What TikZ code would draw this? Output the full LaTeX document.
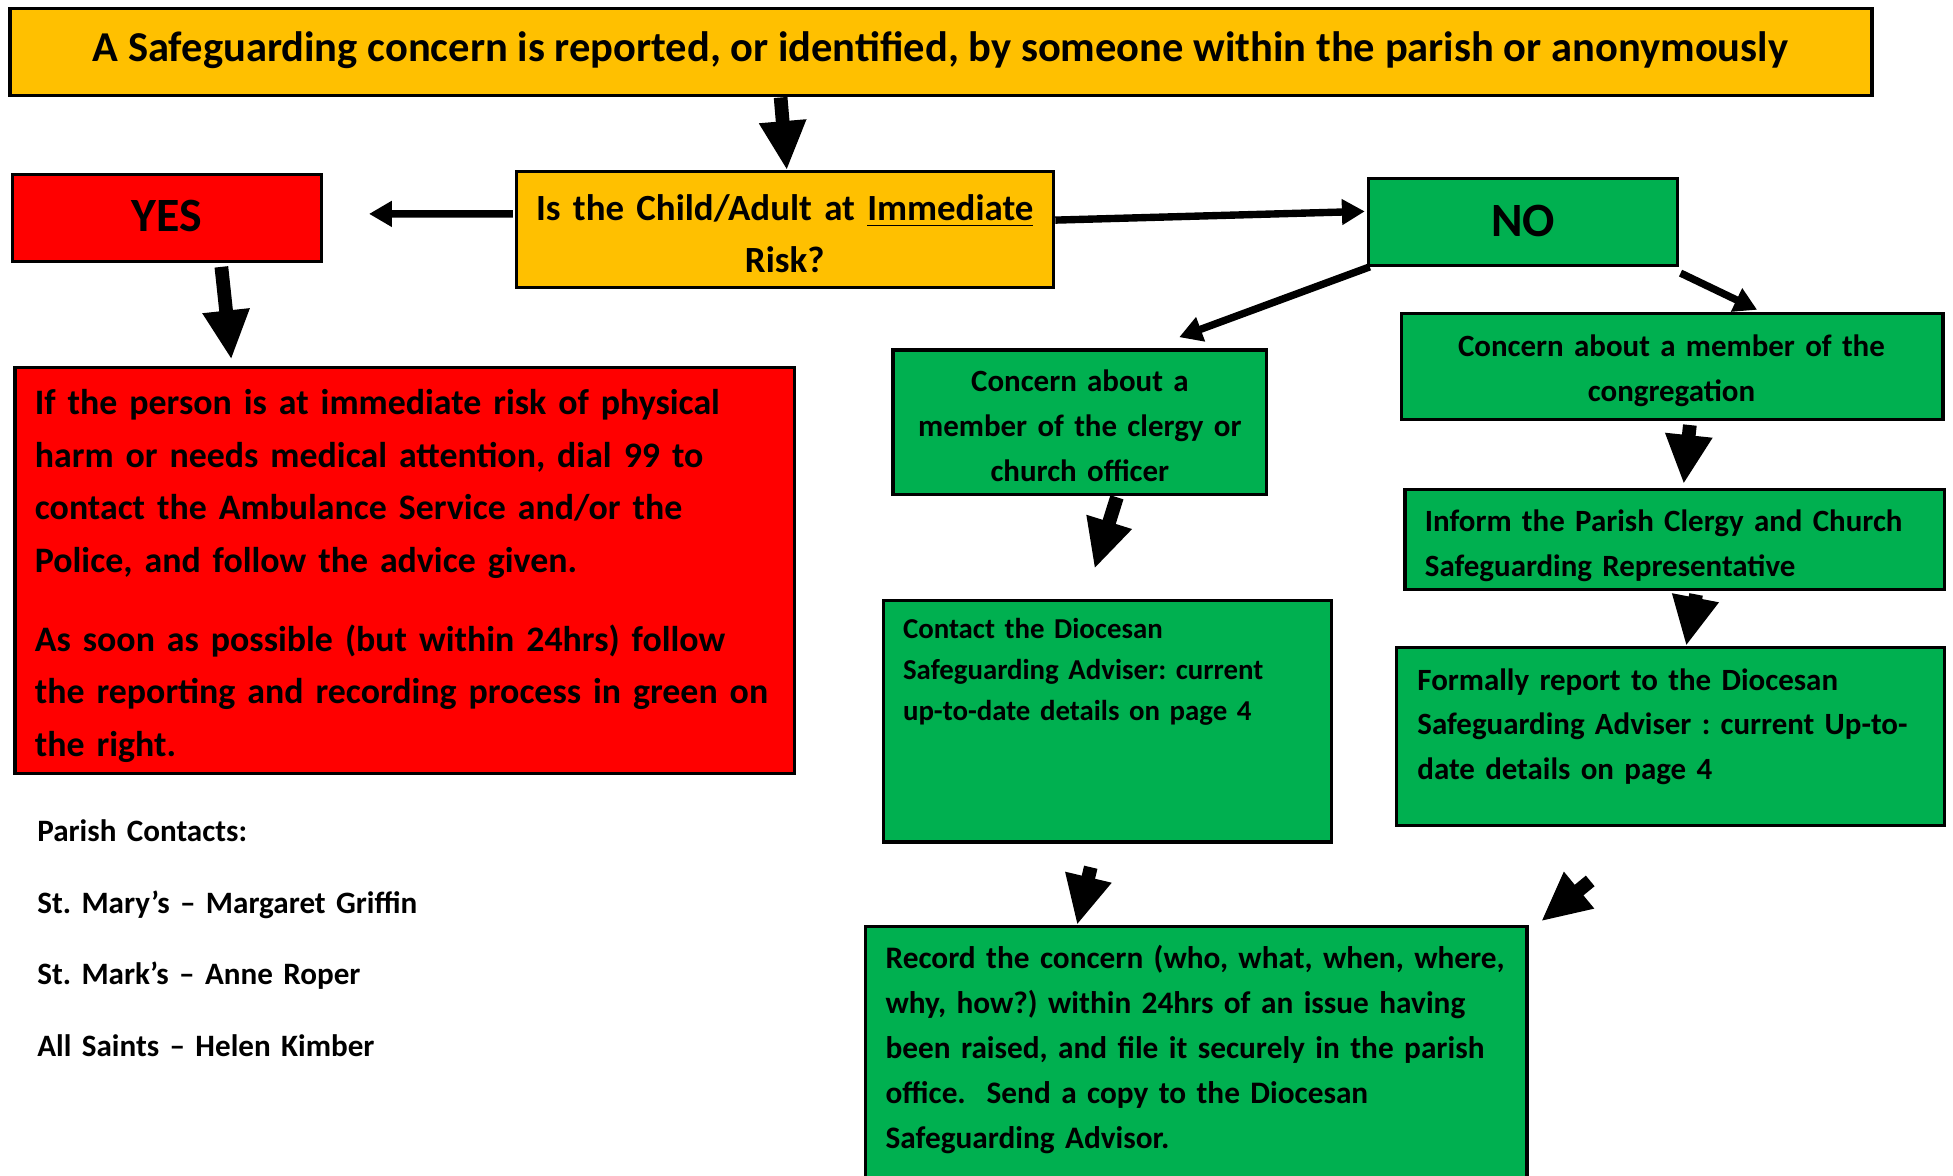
\documentclass[tikz,border=0pt]{standalone}
\usepackage{fontspec}
\setmainfont{Carlito}
\usetikzlibrary{arrows.meta,fit,calc}
\definecolor{goldb}{HTML}{FFC000}
\definecolor{redb}{HTML}{FF0000}
\definecolor{greenb}{HTML}{00B050}
\frenchspacing
\begin{document}
\begin{tikzpicture}[x=0.012455cm,y=-0.012455cm,
  box/.style={draw=black,line width=0.9pt,inner sep=0pt},
  goldbox/.style={box,fill=goldb},
  redbox/.style={box,fill=redb},
  greenbox/.style={box,fill=greenb},
  txt/.style={inner sep=0pt,outer sep=0pt},
  fs/.style 2 args={font=\fontsize{#1}{#2}\selectfont\bfseries},
  bigarrow/.style={line width=3.9pt,-{Triangle[length=14pt,width=12.5pt]}},
  smallarrow/.style={line width=2.1pt,-{Triangle[length=6.5pt,width=7pt]}},
]
\useasboundingbox (0,0) rectangle (1568,943.4);
% boxes
\node[goldbox,fit={(8,7)(1503,77)}] (top) {};
\node[goldbox,fit={(415,138)(846,231)}] (q) {};
\node[redbox,fit={(10,140)(258,210)}] (yes) {};
\node[greenbox,fit={(1099,143)(1347,213)}] (no) {};
\node[redbox,fit={(12,295)(638,621)}] (red) {};
\node[greenbox,fit={(717,281)(1017,397)}] (clergy) {};
\node[greenbox,fit={(1125,252)(1560,337)}] (cong) {};
\node[greenbox,fit={(1128,393)(1561,473)}] (inform) {};
\node[greenbox,fit={(709,482)(1069,676)}] (contact) {};
\node[greenbox,fit={(1121,520)(1561,663)}] (formal) {};
\node[greenbox,fit={(695,744)(1226,960)}] (record) {};
% texts
\node[txt,fs={12.1}{14},anchor=base] (toptxt) at (755,49) {A Safeguarding concern is reported, or identified, by someone within the parish or anonymously};
\node[txt,fs={10.5}{14.9},anchor=base,text width=150pt,align=center] (qtxt) at (630,177) {Is the Child/Adult at \underline{Immediate}\\Risk?};
\node[txt,fs={13.6}{15},anchor=base] (yestxt) at (134,186) {YES};
\node[txt,fs={13.6}{15},anchor=base] (notxt) at (1223,190) {NO};
\node[txt,fs={10.2}{15},anchor=base west,text width=215pt,align=left] (redtxt) at (28,332.7) {If the person is at immediate risk of physical\\harm or needs medical attention, dial 99 to\\contact the Ambulance Service and/or the\\Police, and follow the advice given.\\[7.3pt]As soon as possible (but within 24hrs) follow\\the reporting and recording process in green on\\the right.};
\node[txt,fs={8.8}{12.9},anchor=base,text width=104pt,align=center] (clergytxt) at (867,314) {Concern about a\\member of the clergy or\\church officer};
\node[txt,fs={8.8}{12.75},anchor=base,text width=150pt,align=center] (congtxt) at (1342,286) {Concern about a member of the\\congregation};
\node[txt,fs={8.8}{12.75},anchor=base west,text width=150pt,align=left] (informtxt) at (1144,427) {Inform the Parish Clergy and Church\\Safeguarding Representative};
\node[txt,fs={8.2}{11.7},anchor=base west,text width=120pt,align=left] (contacttxt) at (725,512.7) {Contact the Diocesan\\Safeguarding Adviser: current\\up-to-date details on page 4};
\node[txt,fs={8.8}{12.7},anchor=base west,text width=150pt,align=left] (formaltxt) at (1138,554) {Formally report to the Diocesan\\Safeguarding Adviser : current Up-to-\\date details on page 4};
\node[txt,fs={8.9}{12.8},anchor=base west,text width=250pt,align=left] (recordtxt) at (711,777.5) {Record the concern (who, what, when, where,\\why, how?) within 24hrs of an issue having\\been raised, and file it securely in the parish\\office.\ \ Send a copy to the Diocesan\\Safeguarding Advisor.};
\node[txt,fs={8.85}{20.3},anchor=base west,text width=150pt,align=left] (contactstxt) at (30,676) {Parish Contacts:\\St. Mary’s – Margaret Griffin\\St. Mark’s – Anne Roper\\All Saints – Helen Kimber};
% arrows
\draw[bigarrow] ($(top.south west)+(620,0)$) -- ($(q.north west)+(218,0)$);
\draw[smallarrow] ($(q.north west)+(-2,35)$) -- ($(yes.north east)+(37,33)$);
\draw[smallarrow] ($(q.north east)+(0,40)$) -- ($(no.north west)+(-2,28)$);
\draw[bigarrow] ($(yes.south west)+(169,3)$) -- ($(red.north west)+(175,-5)$);
\draw[smallarrow] ($(no.south west)+(2,0)$) -- ($(clergy.north west)+(231,-9)$);
\draw[smallarrow] ($(no.south east)+(1,5)$) -- ($(cong.north west)+(287,-2)$);
\draw[bigarrow] ($(clergy.south west)+(181,1)$) -- ($(contact.north west)+(171,-24)$);
\draw[bigarrow] ($(cong.south west)+(233,3)$) -- ($(inform.north west)+(225,-3)$);
\draw[bigarrow] ($(inform.south west)+(235,3)$) -- ($(formal.north west)+(234,0)$);
\draw[bigarrow] ($(contact.south west)+(168,19)$) -- ($(record.north west)+(171,0)$);
\draw[bigarrow] ($(formal.south west)+(157,43)$) -- ($(record.north east)+(10,-3)$);
\end{tikzpicture}
\end{document}
